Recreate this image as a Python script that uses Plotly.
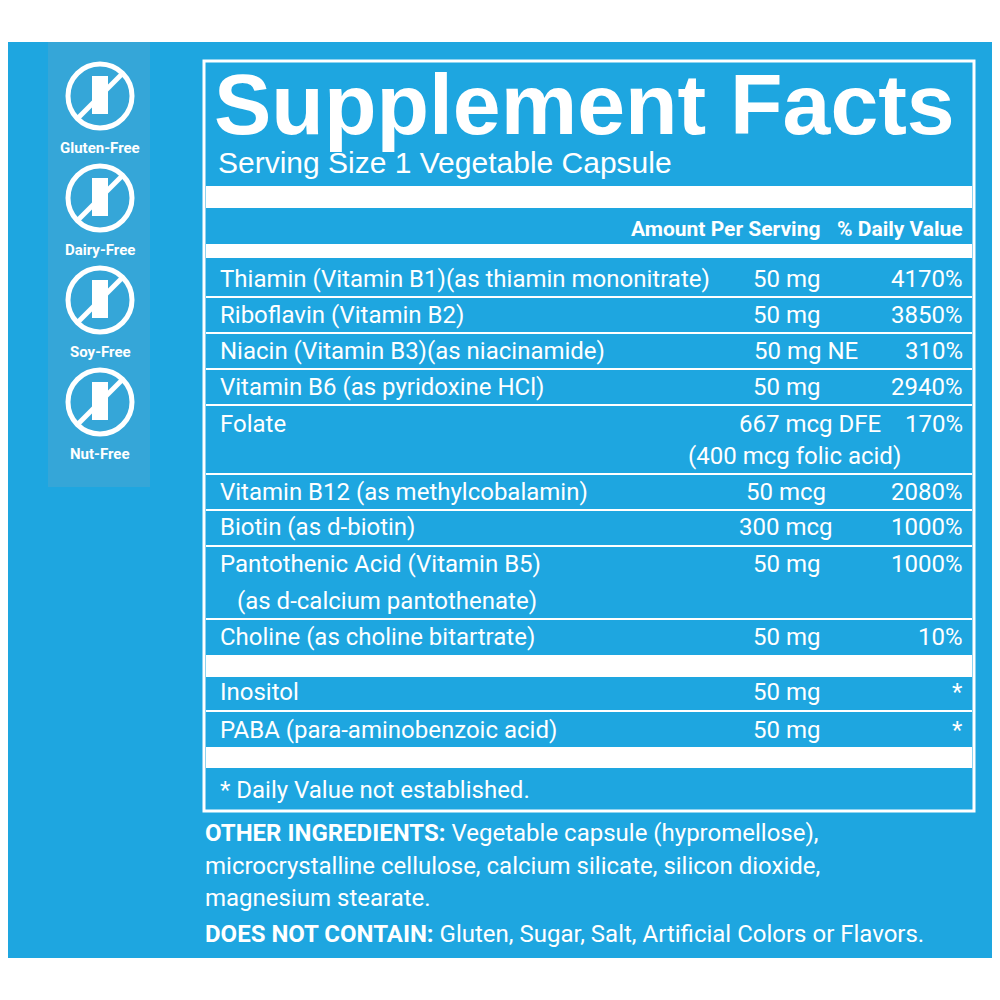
import plotly.graph_objects as go

names = ["Thiamin (Vitamin B1)(as thiamin mononitrate)", "Riboflavin (Vitamin B2)",
         "Niacin (Vitamin B3)(as niacinamide)", "Vitamin B6 (as pyridoxine HCl)", "Folate",
         "Vitamin B12 (as methylcobalamin)", "Biotin (as d-biotin)",
         "Pantothenic Acid (Vitamin B5)", "Choline (as choline bitartrate)",
         "Inositol", "PABA (para-aminobenzoic acid)"]
amounts = ["50 mg", "50 mg", "50 mg NE", "50 mg", "667 mcg DFE", "50 mcg", "300 mcg",
           "50 mg", "50 mg", "50 mg", "50 mg"]
dvs = ["4170%", "3850%", "310%", "2940%", "170%", "2080%", "1000%", "1000%", "10%", "*", "*"]
row_y = [279, 315, 351, 387, 424, 492, 527, 564, 637, 692, 730]
sub_lines = {4: (686, 456, "(400 mcg folic acid)", "left"), 7: (235, 601, "(as d-calcium pantothenate)", "left")}
icon_labels = ["Gluten-Free", "Dairy-Free", "Soy-Free", "Nut-Free"]

BLUE = "#1ea6e0"
W = "white"
NARROW = "Roboto, Liberation Sans"
fig = go.Figure()
shapes = []
ann = []
def rect(x0, y0, x1, y1, color, line=None):
    shapes.append(dict(type="rect", x0=x0, y0=y0, x1=x1, y1=y1, fillcolor=color,
                       line=dict(width=0) if line is None else line, layer="below"))
rect(0, 42, 1010, 958, BLUE)
rect(48, 42, 150, 487, "#35a6d8")
shapes.append(dict(type="rect", x0=204, y0=61, x1=974, y1=811, line=dict(color=W, width=3)))
for y0, y1 in [(186, 208), (244, 258), (655, 677), (747, 768)]:
    rect(206, y0, 972, y1, W)
for y in [297, 333, 369, 405, 474, 510, 546, 619, 711]:
    shapes.append(dict(type="line", x0=206, x1=972, y0=y, y1=y, line=dict(color=W, width=2)))

def text(x, y, t, size, anchor="left", bold=False, family=NARROW):
    ann.append(dict(x=x, y=y, text=f"<b>{t}</b>" if bold else t, showarrow=False, xanchor=anchor,
                    yanchor="middle", font=dict(size=size, color=W, family=family)))

text(212, 104, "Supplement Facts", 86, bold=True, family="Liberation Sans, Arial")
text(216, 162, "Serving Size 1 Vegetable Capsule", 30, family="Liberation Sans, Arial")
text(822, 229, "Amount Per Serving", 21, anchor="right", bold=True)
text(965, 229, "% Daily Value", 21, anchor="right", bold=True)
for n, a, d, y in zip(names, amounts, dvs, row_y):
    text(218, y, n, 24)
    text(965, y, d, 24, anchor="right")
    if a == "50 mg NE":
        text(752, y, a, 24)
    elif a.startswith("667"):
        text(883, y, a, 24, anchor="right")
    else:
        text(786, y, a, 24, anchor="center")
for i, (x, y, t, an) in sub_lines.items():
    text(x, y, t, 24, anchor=an)
text(218, 790, "* Daily Value not established.", 24)
text(203, 833, "<b>OTHER INGREDIENTS:</b> Vegetable capsule (hypromellose),", 24)
text(203, 866, "microcrystalline cellulose, calcium silicate, silicon dioxide,", 24)
text(203, 898, "magnesium stearate.", 24)
text(203, 934, "<b>DOES NOT CONTAIN:</b> Gluten, Sugar, Salt, Artificial Colors or Flavors.", 24)

for i, lab in enumerate(icon_labels):
    cy = 96 + i * 102
    shapes.append(dict(type="circle", x0=68, x1=132, y0=cy - 32, y1=cy + 32, line=dict(color=W, width=5)))
    shapes.append(dict(type="line", x0=78, y0=cy + 22, x1=122, y1=cy - 22, line=dict(color=W, width=5)))
    shapes.append(dict(type="rect", x0=92, x1=108, y0=cy - 20, y1=cy + 18, fillcolor=W, line=dict(width=0)))
    text(100, cy + 52, lab, 15, anchor="center", bold=True)

fig.update_layout(width=1000, height=1000, margin=dict(l=0, r=0, t=0, b=0),
                  paper_bgcolor="white", plot_bgcolor="white", shapes=shapes, annotations=ann,
                  xaxis=dict(range=[8, 1008], visible=False, fixedrange=True),
                  yaxis=dict(range=[1008, 8], visible=False, fixedrange=True), showlegend=False)
fig.write_html("out.html")
